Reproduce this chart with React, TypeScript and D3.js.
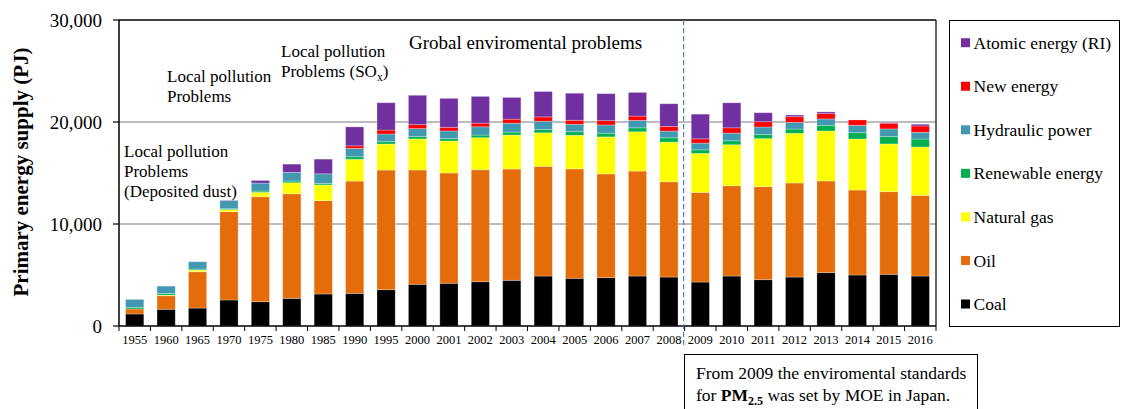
import React from "react";
import * as d3 from "d3";

const years = ["1955","1960","1965","1970","1975","1980","1985","1990","1995","2000","2001","2002","2003","2004","2005","2006","2007","2008","2009","2010","2011","2012","2013","2014","2015","2016"];

const coal =       [1180,1640,1760,2550,2380,2710,3140,3200,3560,4090,4190,4340,4480,4900,4680,4740,4900,4800,4310,4900,4540,4800,5230,5000,5070,4900];
const oil =        [490,1330,3560,8660,10290,10250,9150,11010,11730,11210,10810,10980,10910,10750,10720,10170,10290,9340,8790,8850,9120,9220,8990,8330,8100,7910];
const naturalGas = [0,60,160,200,430,1080,1540,2130,2550,3040,3140,3140,3330,3290,3300,3630,3850,3890,3820,4020,4710,4870,4900,5000,4680,4740];
const renewable =  [160,150,100,90,130,170,150,250,230,230,230,260,290,330,350,360,390,420,350,390,390,420,560,620,720,780];
const hydro =      [780,730,720,790,780,850,940,820,750,780,750,810,880,810,730,810,730,660,660,750,750,660,620,730,750,660];
const newEnergy =  [0,0,0,0,0,0,0,250,390,390,360,360,390,420,390,420,420,460,420,520,520,550,520,520,560,620];
const atomic =     [0,0,0,40,260,810,1440,1860,2680,2880,2840,2620,2130,2490,2650,2650,2320,2220,2420,2450,880,170,170,0,70,170];

const seriesNames = ["Coal","Oil","Natural gas","Renewable energy","Hydraulic power","New energy","Atomic energy (RI)"];
const seriesColors = ["#000000","#E46C0A","#FFFF00","#00B050","#4198B0","#FF0000","#7030A0"];
const yTicks = [0, 10000, 20000, 30000];

const W = 1121, H = 409;
const M = { left: 119, right: 936, top: 20, bottom: 326 };
const FONT = "'Liberation Serif', 'Times New Roman', serif";

export default function App() {
  const rows = years.map((y, i) => ({
    year: y,
    "Coal": coal[i],
    "Oil": oil[i],
    "Natural gas": naturalGas[i],
    "Renewable energy": renewable[i],
    "Hydraulic power": hydro[i],
    "New energy": newEnergy[i],
    "Atomic energy (RI)": atomic[i],
  }));
  const stacked = d3.stack<any>().keys(seriesNames)(rows);
  const x = d3.scaleBand<string>().domain(years).range([M.left, M.right]).paddingInner(0.42).paddingOuter(0.21);
  const xb = d3.scaleBand<string>().domain(years).range([M.left, M.right]).padding(0);
  const y = d3.scaleLinear().domain([0, 30000]).range([M.bottom, M.top]);
  const fmt = d3.format(",");
  const dashX = xb("2009")! - 1;
  const legendOrder = [...seriesNames].reverse();

  return (
    <div style={{ position: "absolute", left: 0, top: 0 }}>
      <svg width={W} height={H} style={{ display: "block", fontFamily: FONT }}>
        <rect width={W} height={H} fill="#fff" />
        {/* gridlines */}
        {yTicks.filter(t => t > 0 && t < 30000).map(t => (
          <line key={t} x1={M.left} x2={M.right} y1={y(t)} y2={y(t)} stroke="#a6a6a6" strokeWidth={1.5} />
        ))}
        {/* bars */}
        {stacked.map((s, si) => (
          <g key={s.key} fill={seriesColors[si]}>
            {s.map((d, i) => {
              const h = y(d[0]) - y(d[1]);
              if (h <= 0.05) return null;
              return (
                <rect key={i} x={x(years[i])} y={y(d[1])} width={x.bandwidth()} height={h}
                  stroke="#ffffff" strokeOpacity={0.35} strokeWidth={0.8} />
              );
            })}
          </g>
        ))}
        {/* frame */}
        <line x1={M.left} x2={M.right} y1={M.top} y2={M.top} stroke="#000" strokeWidth={1.5} />
        <line x1={M.right} x2={M.right} y1={M.top} y2={M.bottom} stroke="#333" strokeWidth={1.5} />
        <line x1={M.left} x2={M.left} y1={M.top} y2={M.bottom} stroke="#000" strokeWidth={1.5} />
        <line x1={M.left} x2={M.right} y1={M.bottom} y2={M.bottom} stroke="#000" strokeWidth={1.5} />
        {/* y ticks */}
        {yTicks.map(t => (
          <g key={t}>
            <line x1={M.left - 6} x2={M.left} y1={y(t)} y2={y(t)} stroke="#000" strokeWidth={1.2} />
            <text x={102} y={y(t)} dy="0.35em" textAnchor="end" fontSize={19}>{fmt(t)}</text>
          </g>
        ))}
        {/* x ticks */}
        {years.map((yr) => (
          <line key={"t" + yr} x1={xb(yr)!} x2={xb(yr)!} y1={M.bottom} y2={M.bottom + 5} stroke="#000" strokeWidth={1} />
        ))}
        <line x1={M.right} x2={M.right} y1={M.bottom} y2={M.bottom + 5} stroke="#000" strokeWidth={1} />
        {years.map(yr => (
          <text key={"l" + yr} x={xb(yr)! + xb.bandwidth() / 2} y={344} textAnchor="middle" fontSize={12.5}>{yr}</text>
        ))}
        {/* y title */}
        <text transform={`translate(28,${172}) rotate(-90)`} textAnchor="middle" fontSize={21} fontWeight="bold">
          Primary energy supply (PJ)
        </text>
        {/* dashed line */}
        <line x1={dashX} x2={dashX} y1={M.top} y2={346} stroke="#4F81BD" strokeWidth={1.2} strokeDasharray="5,3" />
        {/* annotations */}
        <text x={409} y={49} fontSize={19}>Grobal enviromental problems</text>
        <text x={281} y={57} fontSize={17}>Local pollution</text>
        <text x={281} y={77} fontSize={17}>Problems (SO<tspan fontSize={11.5} dy={4}>x</tspan><tspan dy={-4}>)</tspan></text>
        <text x={167} y={82} fontSize={17}>Local pollution</text>
        <text x={167} y={102} fontSize={17}>Problems</text>
        <text x={124} y={157} fontSize={17}>Local pollution</text>
        <text x={124} y={177} fontSize={17}>Problems</text>
        <text x={124} y={197} fontSize={17}>(Deposited dust)</text>
        {/* note box */}
        <rect x={684.5} y={354.5} width={293} height={70} fill="#fff" stroke="#000" strokeWidth={1} />
        <text x={696} y={379} fontSize={17.5}>From 2009 the enviromental standards</text>
        <text x={696} y={401} fontSize={17.5}>for <tspan fontWeight="bold">PM</tspan><tspan fontWeight="bold" fontSize={12} dy={4}>2.5</tspan><tspan dy={-4}> was set by MOE in Japan.</tspan></text>
        {/* legend */}
        <rect x={949.5} y={20.5} width={170} height={306} fill="#fff" stroke="#000" strokeWidth={1} />
        {legendOrder.map((name, i) => {
          const cy = 42.7 + i * 43.55;
          const col = seriesColors[seriesNames.indexOf(name)];
          return (
            <g key={name}>
              <rect x={961} y={cy - 4.5} width={9} height={9} fill={col} />
              <text x={973.5} y={cy} dy="0.35em" fontSize={17.5}>{name}</text>
            </g>
          );
        })}
      </svg>
    </div>
  );
}
